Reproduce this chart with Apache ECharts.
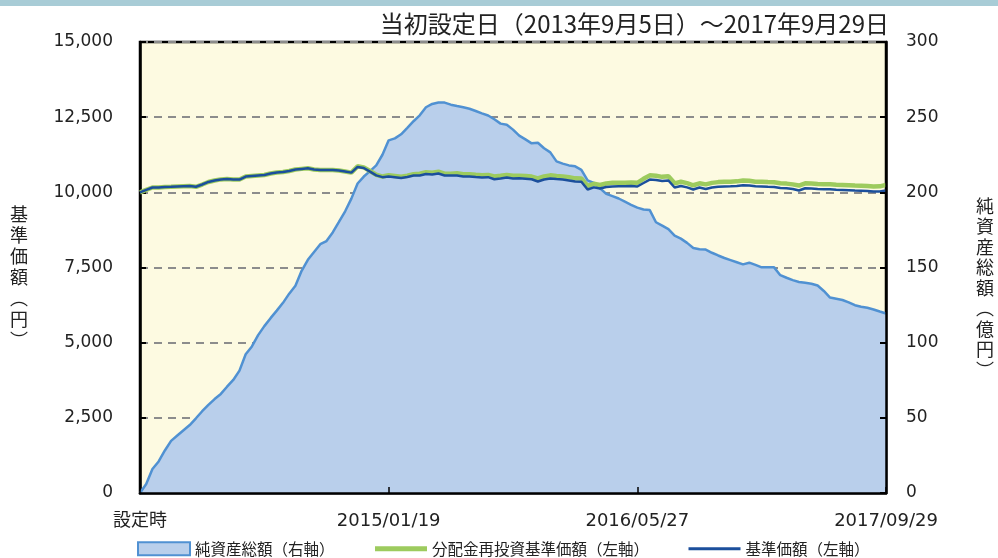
<!DOCTYPE html>
<html>
<head>
<meta charset="utf-8">
<script src="https://cdn.jsdelivr.net/npm/echarts@6/dist/echarts.min.js"></script>
<style>
html,body{margin:0;padding:0;background:#fff;}
#c{width:998px;height:558px;}
</style>
</head>
<body>
<div id="c"></div>
<script>
const titleText = '当初設定日（2013年9月5日）～2017年9月29日';
const tickLabels = ['設定時', '2015/01/19', '2016/05/27', '2017/09/29'];
const seriesNames = ['純資産総額（右軸）', '分配金再投資基準価額（左軸）', '基準価額（左軸）'];

// 純資産総額（億円）
const netAssets = [
  0, 6.0, 16.0, 21.0, 28.3, 34.7, 38.2, 41.7, 45.2, 49.7,
  54.4, 58.6, 62.5, 65.9, 70.7, 75.2, 81.4, 92.3, 97.5, 105.0,
  111.0, 116.3, 121.3, 126.5, 132.6, 137.9, 147.8, 155.1, 160.3, 165.5,
  167.6, 173.3, 180.3, 187.4, 195.8, 205.9, 210.5, 214.1, 217.9, 225.0,
  234.6, 235.9, 238.6, 242.9, 247.3, 251.2, 256.6, 258.8, 259.8, 259.7,
  258.3, 257.4, 256.6, 255.6, 254.1, 252.5, 251.1, 248.6, 245.7, 245.0,
  241.7, 237.7, 235.2, 232.6, 233.0, 229.3, 226.6, 220.6, 219.1, 217.9,
  217.3, 215.0, 207.9, 206.2, 202.7, 199.0, 197.5, 195.9, 193.8, 191.7,
  189.8, 188.6, 188.2, 180.1, 177.8, 175.5, 171.2, 169.2, 166.4, 163.0,
  162.1, 161.9, 159.8, 158.0, 156.3, 154.9, 153.5, 152.1, 153.2, 151.7,
  150.1, 150.1, 150.1, 144.9, 143.2, 141.6, 140.4, 139.8, 139.2, 138.0,
  134.4, 130.0, 129.2, 128.4, 126.8, 124.9, 123.9, 123.2, 122.1, 120.7,
  119.4
];

// 分配金再投資基準価額（円）
const reinvestedNav = [
  10000, 10080, 10160, 10160, 10180, 10185, 10195, 10205, 10210, 10185,
  10260, 10345, 10395, 10430, 10440, 10430, 10425, 10525, 10545, 10560,
  10575, 10625, 10660, 10675, 10710, 10760, 10780, 10800, 10760, 10745,
  10745, 10745, 10725, 10695, 10655, 10865, 10830, 10710, 10585, 10525,
  10570, 10545, 10520, 10550, 10600, 10620, 10670, 10655, 10685, 10620,
  10620, 10635, 10605, 10605, 10585, 10570, 10580, 10525, 10550, 10580,
  10550, 10555, 10540, 10525, 10465, 10530, 10565, 10545, 10530, 10500,
  10465, 10460, 10215, 10285, 10245, 10295, 10315, 10320, 10320, 10330,
  10315, 10450, 10565, 10550, 10515, 10535, 10300, 10350, 10305, 10235,
  10300, 10265, 10315, 10340, 10350, 10355, 10365, 10390, 10385, 10355,
  10350, 10340, 10335, 10300, 10290, 10265, 10225, 10300, 10295, 10275,
  10265, 10265, 10250, 10245, 10235, 10225, 10220, 10210, 10195, 10200,
  10250
];

// 基準価額（円）
const baseNav = [
  10000, 10080, 10160, 10160, 10180, 10185, 10195, 10205, 10210, 10185,
  10260, 10345, 10395, 10430, 10440, 10430, 10425, 10525, 10545, 10560,
  10575, 10625, 10660, 10675, 10710, 10760, 10780, 10800, 10760, 10745,
  10745, 10745, 10725, 10695, 10655, 10845, 10810, 10690, 10565, 10505,
  10530, 10505, 10480, 10510, 10560, 10560, 10610, 10595, 10625, 10560,
  10560, 10560, 10530, 10530, 10510, 10495, 10505, 10435, 10460, 10490,
  10460, 10465, 10450, 10435, 10360, 10425, 10460, 10440, 10425, 10395,
  10360, 10355, 10095, 10165, 10125, 10175, 10195, 10200, 10200, 10210,
  10195, 10310, 10425, 10410, 10375, 10395, 10160, 10210, 10165, 10095,
  10160, 10110, 10160, 10185, 10195, 10200, 10210, 10235, 10230, 10200,
  10195, 10185, 10180, 10145, 10135, 10110, 10060, 10135, 10130, 10110,
  10100, 10100, 10085, 10080, 10070, 10060, 10055, 10045, 10030, 10030,
  10060
];

const labelStep = (netAssets.length - 1) / (tickLabels.length - 1);
const categories = netAssets.map((_, i) => String(i));

const FONT = "'DejaVu Sans', 'Noto Sans CJK JP', sans-serif";
const CJK = "'Noto Sans CJK JP', sans-serif";

const chart = echarts.init(document.getElementById('c'), null, {renderer: 'canvas'});
chart.setOption({
  animation: false,
  backgroundColor: '#ffffff',
  title: {
    text: titleText,
    right: 104,
    top: 7,
    textStyle: {fontFamily: CJK, fontSize: 24, fontWeight: 'normal', color: '#222'}
  },
  graphic: [
    {type: 'rect', shape: {x: 0, y: 0, width: 998, height: 6}, style: {fill: '#A8CCD6'}, silent: true},
    {type: 'text', x: 19, y: 277, style: {text: '基\n準\n価\n額\n︵\n円\n︶', fontFamily: CJK, fontSize: 18, lineHeight: 21, fill: '#222', align: 'center', verticalAlign: 'middle'}},
    {type: 'text', x: 985, y: 288, style: {text: '純\n資\n産\n総\n額\n︵\n億\n円\n︶', fontFamily: CJK, fontSize: 18, lineHeight: 20.5, fill: '#222', align: 'center', verticalAlign: 'middle'}}
  ],
  legend: {
    left: 132,
    top: 536,
    itemWidth: 52,
    itemHeight: 13,
    itemGap: 38,
    textStyle: {fontFamily: CJK, fontSize: 15.5, color: '#222'},
    data: [
      {name: seriesNames[0], icon: 'rect', itemStyle: {color: '#B9CFEB', borderColor: '#5091D2', borderWidth: 2}},
      {name: seriesNames[1], itemStyle: {opacity: 0}, lineStyle: {width: 5, color: '#9DCB5E'}},
      {name: seriesNames[2], itemStyle: {opacity: 0}, lineStyle: {width: 3, color: '#1B4F9C'}}
    ]
  },
  grid: {
    left: 140, right: 112, top: 42, bottom: 65,
    show: true, backgroundColor: '#FDFAE1', borderColor: '#000', borderWidth: 2.5
  },
  xAxis: {
    type: 'category',
    data: categories,
    boundaryGap: false,
    z: 10,
    axisLine: {lineStyle: {color: '#000', width: 2.5}},
    axisTick: {inside: true, length: 6, lineStyle: {color: '#000', width: 1.5},
      interval: (i) => i % labelStep === 0},
    axisLabel: {
      interval: (i) => i % labelStep === 0,
      formatter: (v, i) => (i % labelStep === 0 ? tickLabels[i / labelStep] : ''),
      margin: 19, fontFamily: FONT, fontSize: 18, color: '#222'
    },
    splitLine: {show: false}
  },
  yAxis: [
    {
      type: 'value', min: 0, max: 15000, interval: 2500,
      axisLine: {show: true, lineStyle: {color: '#000', width: 2.5}},
      axisTick: {show: true, inside: true, length: 6, lineStyle: {color: '#000', width: 2}},
      axisLabel: {margin: 27, fontFamily: FONT, fontSize: 17, color: '#222'},
      splitLine: {show: true, lineStyle: {color: '#8C8C8C', width: 2, type: [8, 6]}}
    },
    {
      type: 'value', min: 0, max: 300, interval: 50, position: 'right',
      z: 10,
      axisLine: {show: true, lineStyle: {color: '#000', width: 2.5}},
      axisTick: {show: true, inside: true, length: 6, lineStyle: {color: '#000', width: 2}},
      axisLabel: {margin: 20, fontFamily: FONT, fontSize: 17, color: '#222'},
      splitLine: {show: false}
    }
  ],
  series: [
    {
      name: seriesNames[0], type: 'line', yAxisIndex: 1, data: netAssets,
      symbol: 'none', smooth: false,
      lineStyle: {color: '#5091D2', width: 2.5},
      itemStyle: {color: '#5091D2'},
      areaStyle: {color: '#B9CFEB', opacity: 1},
      z: 1
    },
    {
      name: seriesNames[1], type: 'line', yAxisIndex: 0, data: reinvestedNav,
      symbol: 'none',
      lineStyle: {color: '#9DCB5E', width: 4.5},
      itemStyle: {color: '#9DCB5E'},
      z: 2
    },
    {
      name: seriesNames[2], type: 'line', yAxisIndex: 0, data: baseNav,
      symbol: 'none',
      lineStyle: {color: '#1B4F9C', width: 2.5},
      itemStyle: {color: '#1B4F9C'},
      z: 3
    }
  ]
});
</script>
</body>
</html>
